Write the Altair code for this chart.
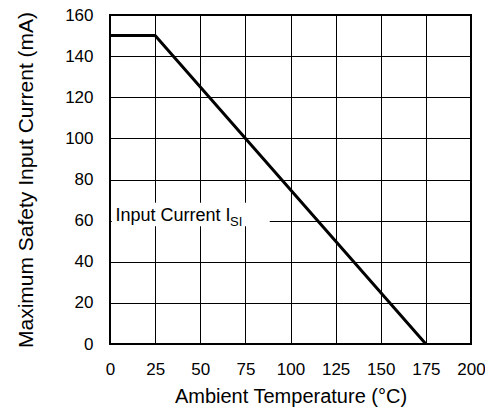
import altair as alt
import pandas as pd

# Derating curve
temps = [0, 25, 175]
currents = [150, 150, 0]

x_ticks = [0, 25, 50, 75, 100, 125, 150, 175, 200]
y_ticks = [0, 20, 40, 60, 80, 100, 120, 140, 160]

label_main = "Input Current I"
label_sub = "SI"

FONT = "Liberation Sans"

line_df = pd.DataFrame({"t": temps, "c": currents})

xs = alt.Scale(domain=[0, 200], nice=False)
ys = alt.Scale(domain=[0, 160], nice=False)

x_axis = alt.Axis(values=x_ticks, title="Ambient Temperature (°C)", grid=True,
                  gridColor="black", gridOpacity=1, gridWidth=1, ticks=False, domain=False,
                  labelFlush=False, labelOverlap=False,
                  labelFont=FONT, labelFontSize=17, labelColor="black", labelPadding=17,
                  titleFont=FONT, titleFontSize=20, titleFontWeight="normal", titleColor="black",
                  titlePadding=9, zindex=0)
y_axis = alt.Axis(values=y_ticks, title="Maximum Safety Input Current (mA)", grid=True,
                  gridColor="black", gridOpacity=1, gridWidth=1, ticks=False, domain=False,
                  labelFlush=False, labelOverlap=False,
                  labelFont=FONT, labelFontSize=17, labelColor="black", labelPadding=17,
                  titleFont=FONT, titleFontSize=21, titleFontWeight="normal", titleColor="black",
                  titlePadding=28, zindex=0)

base = alt.Chart(line_df).mark_line(color="black", strokeWidth=3, clip=True).encode(
    x=alt.X("t:Q", scale=xs, axis=x_axis),
    y=alt.Y("c:Q", scale=ys, axis=y_axis),
)

box_df = pd.DataFrame({"x": [1.0], "x2": [88.5], "y": [57.3], "y2": [68.7]})
box = alt.Chart(box_df).mark_rect(color="white", opacity=1).encode(
    x=alt.X("x:Q", scale=xs), x2="x2:Q", y=alt.Y("y:Q", scale=ys), y2="y2:Q"
)

main_df = pd.DataFrame({"x": [3.0], "y": [60], "label": [label_main]})
main_txt = alt.Chart(main_df).mark_text(align="left", baseline="alphabetic", font=FONT,
                                        fontSize=18, color="black").encode(
    x=alt.X("x:Q", scale=xs), y=alt.Y("y:Q", scale=ys), text="label:N"
)

sub_df = pd.DataFrame({"x": [66.5], "y": [57.4], "label": [label_sub]})
sub_txt = alt.Chart(sub_df).mark_text(align="left", baseline="alphabetic", font=FONT,
                                      fontSize=13, color="black").encode(
    x=alt.X("x:Q", scale=xs), y=alt.Y("y:Q", scale=ys), text="label:N"
)

chart = alt.layer(box, main_txt, sub_txt, base).properties(
    width=361, height=329,
    autosize=alt.AutoSizeParams(type="none"),
    padding={"left": 102, "top": 7, "right": 14, "bottom": 63},
).configure_view(stroke="black", strokeWidth=2)

chart.save("out.html", embed_options={"renderer": "svg", "actions": False})
